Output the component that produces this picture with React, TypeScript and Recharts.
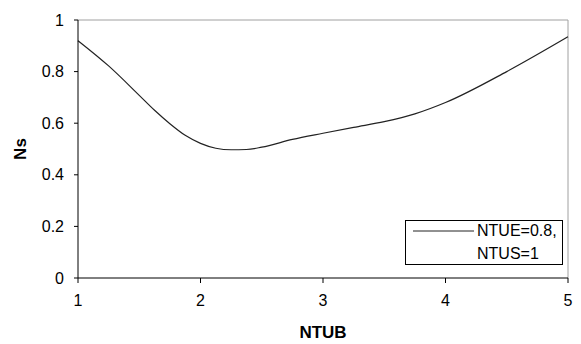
import { LineChart, Line, XAxis, YAxis, ReferenceLine, Label } from 'recharts'

// NTUB values along the curve
const ntub = [1, 1.25, 1.5, 1.625, 1.75, 1.875, 2, 2.125, 2.25, 2.375, 2.5, 2.75, 3, 3.25, 3.5, 3.75, 4, 4.5, 5]
// Ns
const ns = [0.92, 0.822, 0.708, 0.65, 0.598, 0.553, 0.522, 0.503, 0.497, 0.498, 0.507, 0.537, 0.561, 0.584, 0.606, 0.636, 0.68, 0.8, 0.935]

const xTicks = [1, 2, 3, 4, 5]
const yTicks = [0, 0.2, 0.4, 0.6, 0.8, 1]
const seriesName = ['NTUE=0.8,', 'NTUS=1']

const data = ntub.map((x, i) => ({ x, ns: ns[i] }))

const font = '"Liberation Sans", Arial, sans-serif'

function LegendBox() {
  return (
    <div
      style={{
        position: 'absolute',
        left: 405,
        top: 220,
        width: 158,
        height: 45,
        boxSizing: 'border-box',
        border: '1px solid #000',
        background: '#fff',
        fontFamily: font,
        fontSize: 16,
        lineHeight: '18px',
        color: '#000',
      }}
    >
      <svg width={62} height={4} style={{ position: 'absolute', left: 7, top: 8 }}>
        <line x1={0} y1={2} x2={61} y2={2} stroke="#222" strokeWidth={1} />
      </svg>
      <div style={{ position: 'absolute', left: 71, top: 1, whiteSpace: 'nowrap' }}>{seriesName[0]}</div>
      <div style={{ position: 'absolute', left: 71, top: 24, whiteSpace: 'nowrap' }}>{seriesName[1]}</div>
    </div>
  )
}

export default function App() {
  return (
    <div style={{ position: 'absolute', left: 0, top: 0, width: 581, height: 344, background: '#fff' }}>
      <LineChart
        width={581}
        height={344}
        data={data}
        margin={{ top: 20, right: 13, left: 0, bottom: 0 }}
      >
        <XAxis
          dataKey="x"
          type="number"
          domain={[1, 5]}
          ticks={xTicks}
          height={66}
          stroke="#000"
          tickSize={5}
          tickMargin={12}
          tick={{ fill: '#000', fontSize: 16, fontFamily: font }}
        >
          <Label
            value="NTUB"
            position="insideBottom"
            offset={6}
            style={{ fill: '#000', fontSize: 17, fontWeight: 'bold', fontFamily: font }}
          />
        </XAxis>
        <YAxis
          type="number"
          domain={[0, 1]}
          ticks={yTicks}
          width={78}
          stroke="#000"
          tickSize={4}
          tickMargin={10}
          tick={{ fill: '#000', fontSize: 16, fontFamily: font }}
        >
          <Label
            value="Ns"
            angle={-90}
            position="insideLeft"
            offset={20}
            style={{ fill: '#000', fontSize: 17, fontWeight: 'bold', fontFamily: font, textAnchor: 'middle' }}
          />
        </YAxis>
        <ReferenceLine y={1} stroke="#a0a0a0" strokeWidth={1} />
        <ReferenceLine x={5} stroke="#a0a0a0" strokeWidth={1} />
        <Line
          type="monotone"
          dataKey="ns"
          stroke="#222"
          strokeWidth={1.2}
          dot={false}
          isAnimationActive={false}
        />
      </LineChart>
      <LegendBox />
    </div>
  )
}
